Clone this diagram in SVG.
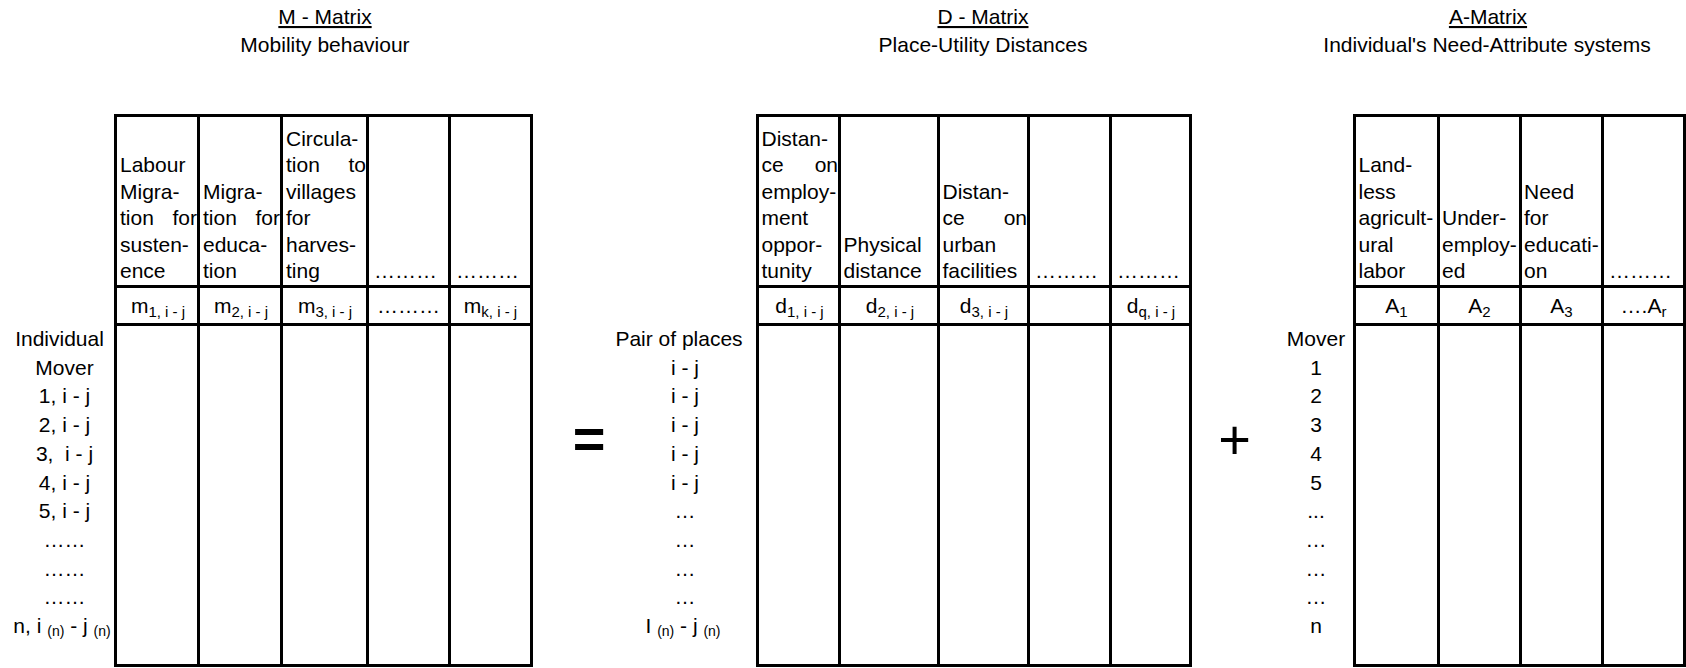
<svg xmlns="http://www.w3.org/2000/svg" width="1686" height="668" viewBox="0 0 1686 668">
<style>
  text { font-family: "Liberation Sans", Arial, sans-serif; font-size: 21px; fill: #000; }
  .c { text-anchor: middle; }
  .e { text-anchor: end; }
  .u { text-decoration: underline; }
  .h { font-size: 21px; }
  .ha { font-size: 22px; }
  .v { font-size: 20px; }
  .sub { font-size: 15px; }
  .sn { font-size: 14px; }
  .grid { fill: none; stroke: #000; stroke-width: 3; }
  .op { font-size: 56px; text-anchor: middle; }
</style>
<rect width="1686" height="668" fill="#fff"/>

<!-- Titles -->
<g id="titles">
  <text class="c u" x="325" y="24">M - Matrix</text>
  <text class="c" x="325" y="52">Mobility behaviour</text>
  <text class="c u" x="983" y="24">D - Matrix</text>
  <text class="c" x="983" y="52">Place-Utility Distances</text>
  <text class="c u" x="1488" y="24">A-Matrix</text>
  <text class="c" x="1487" y="52">Individual's Need-Attribute systems</text>
</g>

<!-- M - Matrix -->
<g id="m-matrix">
  <g class="grid">
    <rect x="115.5" y="115.5" width="416" height="550"/>
    <path d="M198.5 115.5V665.5M281.5 115.5V665.5M367.5 115.5V665.5M449.5 115.5V665.5M115.5 286.5H531.5M115.5 324.5H531.5"/>
  </g>
  <g class="h">
    <text x="120" y="172">Labour</text>
    <text x="120" y="198.5">Migra-</text>
    <text x="120" y="225">tion</text><text class="e" x="197" y="225">for</text>
    <text x="120" y="251.5">susten-</text>
    <text x="120" y="278">ence</text>

    <text x="203" y="198.5">Migra-</text>
    <text x="203" y="225">tion</text><text class="e" x="280" y="225">for</text>
    <text x="203" y="251.5">educa-</text>
    <text x="203" y="278">tion</text>

    <text x="286" y="145.5">Circula-</text>
    <text x="286" y="172">tion</text><text class="e" x="366" y="172">to</text>
    <text x="286" y="198.5">villages</text>
    <text x="286" y="225">for</text>
    <text x="286" y="251.5">harves-</text>
    <text x="286" y="278">ting</text>

    <text x="374" y="278">………</text>
    <text x="456" y="278">………</text>
  </g>

  <g class="v">
    <text class="c" x="158" y="313">m<tspan class="sub" dy="4">1, i - j</tspan></text>
    <text class="c" x="241" y="313">m<tspan class="sub" dy="4">2, i - j</tspan></text>
    <text class="c" x="325" y="313">m<tspan class="sub" dy="4">3, i - j</tspan></text>
    <text class="c" x="408.5" y="313">………</text>
    <text class="c" x="490.5" y="313">m<tspan class="sub" dy="4">k, i - j</tspan></text>
  </g>

  <text class="c" x="59.5" y="346">Individual</text>
  <text class="c" x="64.5" y="374.7">Mover</text>
  <text class="c" x="64.5" y="403.4">1, i - j</text>
  <text class="c" x="64.5" y="432.1">2, i - j</text>
  <text class="c" x="64.5" y="460.8">3,&#160; i - j</text>
  <text class="c" x="64.5" y="489.5">4, i - j</text>
  <text class="c" x="64.5" y="518.2">5, i - j</text>
  <text class="c" x="64.5" y="546.9">……</text>
  <text class="c" x="64.5" y="575.6">……</text>
  <text class="c" x="64.5" y="604.3">……</text>
  <text class="c" x="62" y="633">n, i <tspan class="sn" dy="3">(n)</tspan><tspan dy="-3"> - j </tspan><tspan class="sn" dy="3">(n)</tspan></text>
</g>

<!-- Operator between M and D -->
<g id="equals">
  <text class="op" x="589" y="458" font-weight="bold">=</text>
</g>

<!-- D - Matrix -->
<g id="d-matrix">
  <g class="grid">
    <rect x="757.5" y="115.5" width="433" height="550"/>
    <path d="M839.5 115.5V665.5M938.5 115.5V665.5M1028.5 115.5V665.5M1110.5 115.5V665.5M757.5 286.5H1190.5M757.5 324.5H1190.5"/>
  </g>
  <g class="h">
    <text x="761.5" y="145.5">Distan-</text>
    <text x="761.5" y="172">ce</text><text class="e" x="838" y="172">on</text>
    <text x="761.5" y="198.5">employ-</text>
    <text x="761.5" y="225">ment</text>
    <text x="761.5" y="251.5">oppor-</text>
    <text x="761.5" y="278">tunity</text>

    <text x="843.5" y="251.5">Physical</text>
    <text x="843.5" y="278">distance</text>

    <text x="942.5" y="198.5">Distan-</text>
    <text x="942.5" y="225">ce</text><text class="e" x="1027" y="225">on</text>
    <text x="942.5" y="251.5">urban</text>
    <text x="942.5" y="278">facilities</text>

    <text x="1035" y="278">………</text>
    <text x="1117" y="278">………</text>
  </g>

  <g class="v">
    <text class="c" x="799.5" y="313">d<tspan class="sub" dy="4">1, i - j</tspan></text>
    <text class="c" x="890" y="313">d<tspan class="sub" dy="4">2, i - j</tspan></text>
    <text class="c" x="984" y="313">d<tspan class="sub" dy="4">3, i - j</tspan></text>
    <text class="c" x="1151" y="313">d<tspan class="sub" dy="4">q, i - j</tspan></text>
  </g>

  <text class="c" x="679" y="346">Pair of places</text>
  <text class="c" x="685" y="374.7">i - j</text>
  <text class="c" x="685" y="403.4">i - j</text>
  <text class="c" x="685" y="432.1">i - j</text>
  <text class="c" x="685" y="460.8">i - j</text>
  <text class="c" x="685" y="489.5">i - j</text>
  <text class="c" x="685" y="518.2">…</text>
  <text class="c" x="685" y="546.9">…</text>
  <text class="c" x="685" y="575.6">…</text>
  <text class="c" x="685" y="604.3">…</text>
  <text class="c" x="683" y="633">I <tspan class="sn" dy="3">(n)</tspan><tspan dy="-3"> - j </tspan><tspan class="sn" dy="3">(n)</tspan></text>
</g>

<!-- Operator between D and A -->
<g id="plus">
  <text class="op" x="1234.5" y="459">+</text>
</g>

<!-- A - Matrix -->
<g id="a-matrix">
  <g class="grid">
    <rect x="1354.5" y="115.5" width="330" height="550"/>
    <path d="M1438.5 115.5V665.5M1520.5 115.5V665.5M1602.5 115.5V665.5M1354.5 286.5H1684.5M1354.5 324.5H1684.5"/>
  </g>
  <g class="ha">
    <text x="1358.5" y="172">Land-</text>
    <text x="1358.5" y="198.5">less</text>
    <text x="1358.5" y="225">agricult-</text>
    <text x="1358.5" y="251.5">ural</text>
    <text x="1358.5" y="278">labor</text>

    <text x="1442" y="225">Under-</text>
    <text x="1442" y="251.5">employ-</text>
    <text x="1442" y="278">ed</text>

    <text x="1524" y="198.5">Need</text>
    <text x="1524" y="225">for</text>
    <text x="1524" y="251.5">educati-</text>
    <text x="1524" y="278">on</text>

    <text x="1609" y="278">………</text>
  </g>

  <g class="v">
    <text class="c" x="1396.5" y="313">A<tspan class="sub" dy="4">1</tspan></text>
    <text class="c" x="1479.5" y="313">A<tspan class="sub" dy="4">2</tspan></text>
    <text class="c" x="1561.5" y="313">A<tspan class="sub" dy="4">3</tspan></text>
    <text class="c" x="1643.5" y="313">….A<tspan class="sub" dy="4">r</tspan></text>
  </g>

  <text class="c" x="1316" y="346">Mover</text>
  <text class="c" x="1316" y="374.7">1</text>
  <text class="c" x="1316" y="403.4">2</text>
  <text class="c" x="1316" y="432.1">3</text>
  <text class="c" x="1316" y="460.8">4</text>
  <text class="c" x="1316" y="489.5">5</text>
  <text class="c" x="1316" y="518.2">...</text>
  <text class="c" x="1316" y="546.9">…</text>
  <text class="c" x="1316" y="575.6">…</text>
  <text class="c" x="1316" y="604.3">…</text>
  <text class="c" x="1316" y="633">n</text>
</g>
</svg>
